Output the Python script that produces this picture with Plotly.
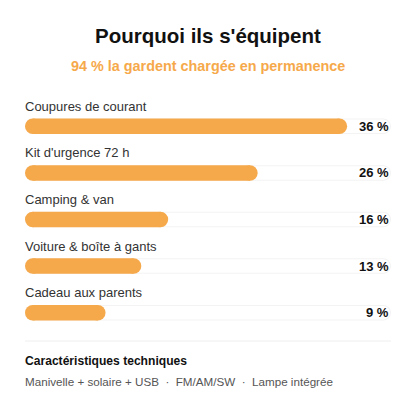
import plotly.graph_objects as go

categories = ["Coupures de courant", "Kit d'urgence 72 h", "Camping & van", "Voiture & boîte à gants", "Cadeau aux parents"]
values = [36, 26, 16, 13, 9]
value_labels = ["36 %", "26 %", "16 %", "13 %", "9 %"]
axis_max = 40.9
track = [axis_max] * len(categories)

ORANGE = "#f6a94b"
FONT = "Liberation Sans"
W = 416
H = 416
TOP = 103
BOTTOM = 80
SIDE = 25
BAR_PX = 15.5


def pill_trace(ends, color, thickness):
    # thick line with round caps, inset so the cap tip lands on the real value
    inset = (BAR_PX / 2) * axis_max / (W - 2 * SIDE)
    xs, ys = [], []
    for cat, end in zip(categories, ends):
        xs += [inset, end - inset, None]
        ys += [cat, cat, None]
    return go.Scatter(
        x=xs, y=ys, mode="lines+markers",
        line=dict(color=color, width=thickness),
        marker=dict(color=color, size=thickness, line=dict(width=0)),
        cliponaxis=False, hoverinfo="skip",
    )


fig = go.Figure()
fig.add_trace(pill_trace(track, "#f3f3f3", BAR_PX))
fig.add_trace(pill_trace(track, "#ffffff", BAR_PX - 2))
fig.add_trace(pill_trace(values, ORANGE, BAR_PX))

annotations = []
for cat, lab in zip(categories, value_labels):
    annotations.append(dict(
        x=0, y=cat, xref="x", yref="y", text=cat, showarrow=False,
        xanchor="left", yanchor="middle", yshift=20, xshift=-2,
        font=dict(size=13, color="#333333", family=FONT),
    ))
    annotations.append(dict(
        x=axis_max, y=cat, xref="x", yref="y", text=lab, showarrow=False,
        xanchor="right", yanchor="middle",
        font=dict(size=13, color="#111111", family=FONT, weight="bold"),
    ))


# page pixels to paper fractions
def to_paper_x(px):
    return (px - SIDE) / (W - 2 * SIDE)


def to_paper_y(py):
    return 1 - (py - TOP) / (H - TOP - BOTTOM)


for text, x, y, size, color, bold, anchor, shift in [
    ("Pourquoi ils s'équipent", 208, 36, 20.5, "#111111", True, "center", 0),
    ("94 % la gardent chargée en permanence", 208, 66, 14.4, ORANGE, True, "center", 0),
    ("Caractéristiques techniques", 25, 360.5, 12.1, "#111111", True, "left", -2),
    ("Manivelle + solaire + USB  ·  FM/AM/SW  ·  Lampe intégrée", 25, 381, 11.65, "#555555", False, "left", -2),
]:
    annotations.append(dict(
        x=to_paper_x(x), y=to_paper_y(y), xref="paper", yref="paper", text=text, showarrow=False,
        xanchor=anchor, yanchor="middle", xshift=shift,
        font=dict(size=size, color=color, family=FONT, weight="bold" if bold else "normal"),
    ))

fig.update_layout(
    width=W, height=H,
    margin=dict(l=SIDE, r=SIDE, t=TOP, b=BOTTOM, pad=0),
    paper_bgcolor="white", plot_bgcolor="white",
    showlegend=False,
    xaxis=dict(range=[0, axis_max], visible=False),
    yaxis=dict(type="category", range=[4.5, -0.5], visible=False, categoryorder="array", categoryarray=categories),
    annotations=annotations,
    shapes=[dict(
        type="line", xref="paper", yref="paper",
        x0=0, x1=1, y0=to_paper_y(341), y1=to_paper_y(341),
        line=dict(color="#eeeeee", width=1),
    )],
)

fig.write_html("out.html", config={"displayModeBar": False},
               post_script="document.body.style.margin = '0';")
